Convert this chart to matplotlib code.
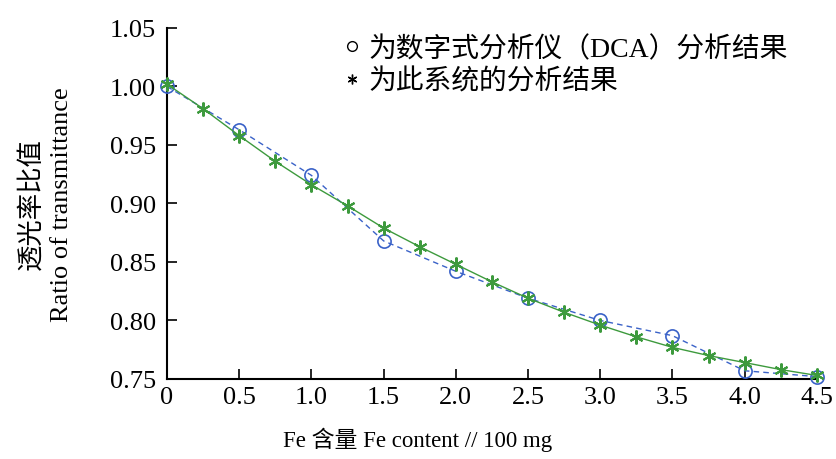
import matplotlib.pyplot as plt
from matplotlib.lines import Line2D

plt.rcParams['font.family'] = ['Liberation Serif', 'Noto Sans CJK SC']

# DCA 分析结果
x_dca = [0, 0.5, 1.0, 1.5, 2.0, 2.5, 3.0, 3.5, 4.0, 4.5]
y_dca = [1.000, 0.963, 0.924, 0.868, 0.842, 0.819, 0.800, 0.787, 0.757, 0.752]

# 此系统的分析结果
x_sys = [0, 0.25, 0.5, 0.75, 1.0, 1.25, 1.5, 1.75, 2.0, 2.25,
         2.5, 2.75, 3.0, 3.25, 3.5, 3.75, 4.0, 4.25, 4.5]
y_sys = [1.002, 0.981, 0.958, 0.936, 0.916, 0.898, 0.879, 0.863, 0.848, 0.833,
         0.819, 0.807, 0.796, 0.786, 0.777, 0.770, 0.764, 0.758, 0.753]

xticks = [0, 0.5, 1.0, 1.5, 2.0, 2.5, 3.0, 3.5, 4.0, 4.5]
xticklabels = ['0', '0.5', '1.0', '1.5', '2.0', '2.5', '3.0', '3.5', '4.0', '4.5']
yticks = [0.75, 0.80, 0.85, 0.90, 0.95, 1.00, 1.05]

fig = plt.figure(figsize=(8.37, 4.6), dpi=100)
ax = fig.add_axes([0.1995, 0.174, 0.7765, 0.763])

ax.plot(x_dca, y_dca, linestyle=(0, (4, 3)), color='#3a62c8', linewidth=1,
        marker='o', markersize=9.5, markerfacecolor='none', markeredgecolor='#3a62c8',
        markeredgewidth=1.2, clip_on=False, zorder=3)
ax.plot(x_sys, y_sys, linestyle='-', color='#3d9a3d', linewidth=1,
        marker=(6, 2, 0), markersize=10, markeredgecolor='#3d9a3d',
        markeredgewidth=1.5, clip_on=False, zorder=4)

ax.set_xlim(0, 4.5)
ax.set_ylim(0.75, 1.05)
ax.set_xticks(xticks)
ax.set_xticklabels(xticklabels)
ax.set_yticks(yticks)
ax.set_yticklabels(['%.2f' % v for v in yticks])
ax.tick_params(direction='in', length=7, width=1.2, labelsize=19, pad=8)
ax.tick_params(axis='x', pad=5)
for s in ['top', 'right']:
    ax.spines[s].set_visible(False)
for s in ['left', 'bottom']:
    ax.spines[s].set_linewidth(1.5)

ax.set_xlabel('Fe 含量 Fe content // 100 mg', fontsize=16.5)
ax.xaxis.set_label_coords(0.385, -0.135)
ax.set_ylabel('透光率比值\nRatio of transmittance', fontsize=19, linespacing=1.35)
ax.yaxis.set_label_coords(-0.145, 0.5)

handles = [
    Line2D([], [], linestyle='none', marker='o', markersize=7,
           markerfacecolor='none', markeredgecolor='black'),
    Line2D([], [], linestyle='none', marker=(6, 2, 0), markersize=7,
           markeredgecolor='black'),
]
ax.legend(handles, ['为数字式分析仪（DCA）分析结果', '为此系统的分析结果'],
          loc='upper left', bbox_to_anchor=(0.255, 1.01), frameon=False,
          fontsize=20, handlelength=0.6, handletextpad=0.3, labelspacing=0.22,
          borderaxespad=0)

fig.savefig('out.png', dpi=100)
